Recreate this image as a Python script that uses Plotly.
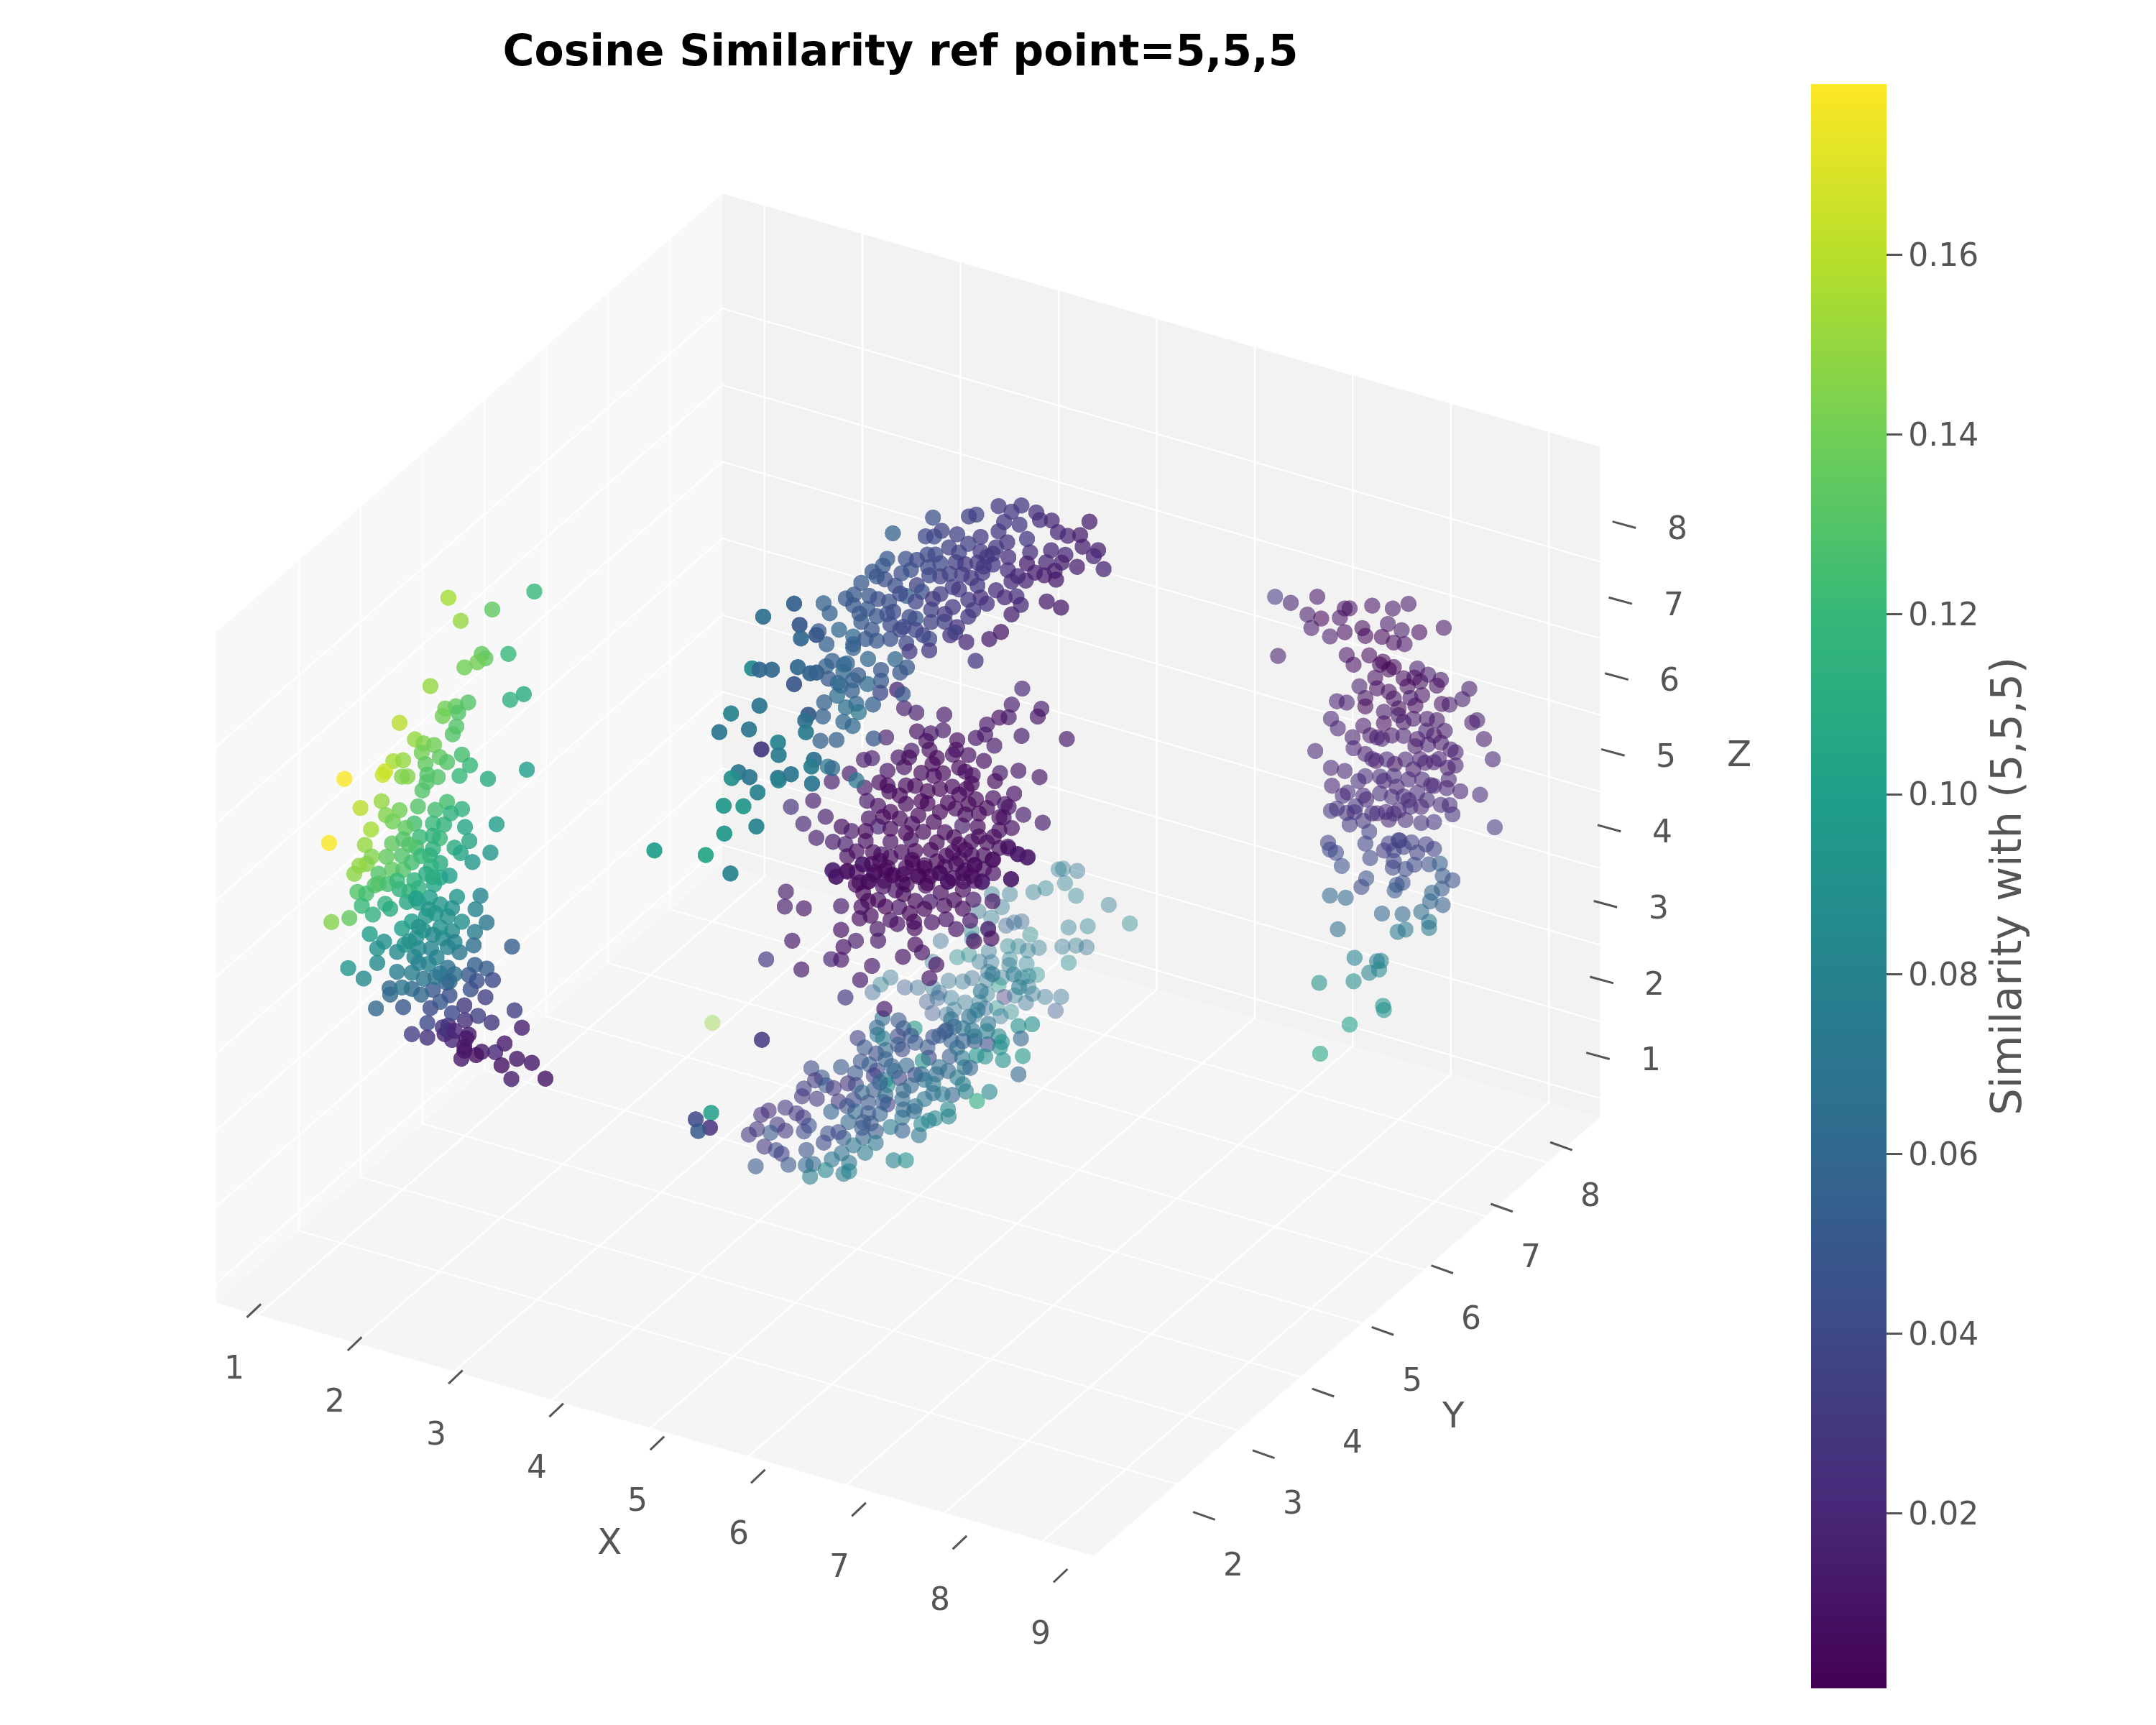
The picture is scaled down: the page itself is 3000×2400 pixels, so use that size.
import plotly.graph_objects as go

GREY = "#555555"
FONT = "DejaVu Sans"
x_ticks = [1, 2, 3, 4, 5, 6, 7, 8, 9]
y_ticks = [2, 3, 4, 5, 6, 7, 8]
z_ticks = [1, 2, 3, 4, 5, 6, 7, 8]
x_range = [0.57, 9.52]
y_range = [0.66, 8.85]
z_range = [0.75, 9.496]
sim_min = 0.0005
sim_max = 0.179
cbar_vals = [0.02, 0.04, 0.06, 0.08, 0.10, 0.12, 0.14, 0.16]
cbar_text = ["0.02", "0.04", "0.06", "0.08", "0.10", "0.12", "0.14", "0.16"]

left_x = 1.5
left_y = [2.94,3.14,3.65,4.33,3.48,3.54,3.41,3.20,3.91,2.65,3.94,4.16,2.15,2.89,3.06,3.26,3.10,2.85,3.07,3.01,2.40,2.54,2.71,2.51,2.80,3.16,2.92,2.05,2.21,2.57,3.29,1.92,1.88,2.19,2.28,2.60,2.77,3.12,3.58,4.21,1.26,2.59,2.52,1.86,2.45,2.92,2.73,3.16,1.52,2.15,1.93,2.04,2.98,2.69,2.39,1.69,2.25,3.21,3.72,2.87,1.59,2.03,2.48,2.80,2.69,3.28,1.01,3.04,2.42,2.21,3.62,3.14,1.70,1.94,2.64,3.33,1.62,1.50,2.03,1.42,1.81,2.21,2.81,2.39,1.75,2.96,2.15,1.47,2.71,3.46,3.08,1.61,1.92,2.64,1.54,3.38,2.27,1.72,1.34,1.05,3.00,2.58,3.56,3.16,2.19,1.67,3.37,2.85,2.42,1.90,3.35,3.97,1.79,2.11,3.12,2.66,1.79,2.39,3.37,3.56,2.62,1.32,2.11,2.93,1.57,3.27,3.66,2.54,2.91,3.40,1.99,3.30,2.35,2.69,2.96,3.54,2.00,2.21,1.77,2.65,4.01,3.20,3.42,3.64,2.60,2.94,3.21,4.13,2.35,2.60,2.88,3.27,3.00,3.85,3.20,3.48,3.70,3.15,3.39,4.05,4.29,3.80,3.96,4.51,
          2.31,2.46,2.73,2.93,2.00,2.35,2.54,3.00,2.75,2.23,2.46,2.81,3.04,2.35,2.69,2.50,2.69,2.81,2.66,2.19,2.31,1.81,1.96,2.46,3.04,2.81,
          2.42,2.62,2.81,2.46,2.69,2.93,2.31,2.46,2.73,2.96,2.19,2.50,2.81,3.00,2.93,2.85,3.04,3.23,3.20,2.58,2.35,2.11]
left_z = [8.70,8.26,8.05,7.81,7.59,7.49,7.53,7.61,7.29,7.75,6.67,6.59,7.62,7.29,7.20,7.11,7.09,7.22,6.93,6.87,7.23,7.08,6.94,6.98,6.72,6.50,6.57,7.19,7.09,6.79,6.27,7.15,7.13,6.89,6.83,6.63,6.48,6.25,5.89,5.57,7.51,6.54,6.48,6.80,6.32,6.05,6.08,5.79,6.95,6.48,6.57,6.41,5.86,5.93,6.14,6.55,6.18,5.52,5.20,5.79,6.42,6.13,5.90,5.66,5.77,5.29,6.85,5.37,5.81,6.06,4.90,5.23,6.19,6.02,5.55,4.98,6.15,6.21,5.79,6.16,5.89,5.66,5.14,5.40,5.78,5.06,5.45,5.89,5.12,4.45,4.70,5.77,5.42,5.00,5.66,4.33,5.20,5.42,5.64,5.79,4.61,4.80,4.03,4.32,4.91,5.20,4.04,4.32,4.63,4.94,3.88,3.43,4.93,4.66,3.95,4.32,4.74,4.40,3.61,3.43,4.15,5.00,4.40,3.88,4.69,3.55,3.21,4.01,3.70,3.38,4.27,3.34,4.01,3.76,3.50,3.07,4.18,3.87,4.16,3.55,2.57,3.20,2.91,2.67,3.39,3.12,3.00,2.26,3.42,3.20,3.05,2.77,2.89,2.25,2.66,2.40,2.24,2.54,2.42,1.91,1.69,2.00,1.71,1.33,
          5.31,5.06,4.73,4.55,5.30,4.89,4.64,4.31,4.14,4.67,4.46,3.89,3.72,4.22,5.23,5.64,5.60,5.33,5.39,5.86,5.92,5.76,5.65,5.25,4.14,4.49,
          5.14,4.86,4.79,4.74,4.48,4.15,4.66,4.27,3.90,3.68,4.14,3.83,3.52,3.24,3.06,3.16,2.98,2.75,2.61,5.35,5.66,5.59]
left_s = [.155,.15,.135,.12,.135,.135,.14,.14,.12,.15,.115,.11,.16,.14,.135,.13,.13,.14,.13,.13,.15,.145,.14,.14,.135,.125,.13,.155,.15,.135,.12,.165,.165,.145,.145,.13,.13,.12,.11,.1,.178,.13,.13,.15,.13,.125,.125,.115,.16,.14,.145,.14,.115,.12,.125,.155,.135,.105,.1,.115,.15,.135,.12,.12,.115,.105,.178,.11,.125,.13,.095,.105,.145,.135,.115,.095,.145,.15,.135,.148,.13,.13,.105,.115,.13,.1,.115,.13,.105,.08,.095,.125,.115,.1,.12,.08,.105,.115,.135,.145,.09,.095,.07,.09,.1,.1,.075,.085,.09,.09,.065,.055,.09,.085,.07,.08,.085,.08,.055,.055,.08,.095,.075,.065,.085,.05,.04,.07,.06,.045,.06,.045,.06,.05,.045,.035,.06,.05,.06,.04,.035,.03,.035,.03,.04,.02,.025,.015,.035,.025,.015,.012,.02,.012,.01,.012,.02,.012,.008,.012,.012,.008,.015,.01,
          .115,.105,.095,.09,.11,.1,.095,.085,.08,.09,.085,.07,.065,.075,.11,.12,.115,.11,.115,.13,.13,.13,.125,.115,.08,.09,
          .1,.095,.095,.09,.085,.08,.09,.08,.07,.06,.07,.06,.05,.04,.025,.028,.02,.012,.01,.11,.125,.12]

bottom_far_x = 5.0
bottom_far_y = [7.26,7.33,7.56,7.36,7.05,6.85,7.54,8.07,6.47,6.18,6.34,5.96,6.17,8.41,7.73,7.42,6.66,6.54,6.41,6.80,5.85,6.12,5.35,5.86,7.32,7.54,7.71,6.94,6.61,6.44,6.76,6.13,5.81,5.62,5.22,6.47,6.74,7.42,5.98,6.17,6.46,6.12,6.91,6.67,6.77,5.71,5.48,5.86,6.34,4.54,4.38,4.77,4.98,4.25,6.10,6.29,6.77,5.23,5.33,6.84,7.04,7.30,6.10,6.38,6.55,5.13,5.30,5.52,6.73,5.75,5.98,7.21,6.49,6.26,6.07,5.22,5.57,5.45,5.90,6.32,1.66]
bottom_far_z = [3.43,3.39,3.20,3.18,3.33,3.42,2.89,2.40,3.66,3.86,3.58,3.79,3.56,1.92,2.36,2.56,3.17,3.24,3.29,2.90,3.61,3.44,3.83,3.50,2.38,2.24,2.10,2.63,2.88,3.00,2.72,3.15,3.33,3.43,3.65,2.81,2.56,2.10,3.12,2.98,2.74,2.89,2.30,2.43,2.38,3.05,3.22,2.99,2.66,3.92,3.94,3.63,3.48,3.93,2.80,2.60,2.24,3.30,3.17,2.10,1.92,1.74,2.61,2.38,2.28,3.19,3.12,2.97,2.06,2.75,2.59,1.62,2.11,2.32,2.45,2.98,2.78,2.80,2.48,2.17,5.34]
bottom_far_s = [.075,.075,.065,.075,.08,.075,.08,.07,.07,.07,.07,.065,.07,.085,.08,.075,.06,.06,.055,.085,.08,.05,.06,.07,.065,.07,.065,.07,.08,.08,.075,.07,.085,.085,.07,.08,.08,.085,.07,.07,.07,.065,.09,.08,.08,.07,.065,.06,.075,.065,.075,.05,.06,.055,.07,.095,.075,.07,.06,.07,.07,.065,.075,.03,.07,.05,.055,.07,.065,.065,.07,.05,.085,.09,.06,.05,.07,.065,.07,.07,.15]

bottom_near_x = 5.0
bottom_near_y = [4.41,6.61,6.83,4.67,6.12,4.93,4.32,4.75,5.52,5.71,5.45,6.65,6.29,5.86,4.01,4.66,4.87,5.23,6.34,6.11,6.31,4.33,4.12,4.42,5.52,5.90,4.31,4.73,4.46,6.68,6.07,5.70,5.16,5.93,6.36,5.50,4.06,4.20,5.06,5.74,5.83,4.56,4.80,3.26,3.74,5.47,6.61,3.97,4.32,4.94,4.27,4.68,5.28,5.62,3.43,4.46,3.32,5.09,3.85,3.98,3.50,4.87,3.14,4.49,3.62,4.27,4.08,5.23,5.76,6.14,5.54,5.38,3.11,3.35,4.46,5.09,5.94,4.73,3.94,3.70,4.18,4.49,2.84,4.94,3.02,5.47,2.57,3.58,3.97,4.37,4.92,3.13,5.26,5.48,2.45,5.16,4.73,4.10,5.04,2.71,4.54,3.22,3.86,4.22,4.73,2.60,2.84,3.14,2.38,2.25,4.30,5.00,3.53,4.10,3.78,4.30,3.46,3.94,2.50,2.69,3.18,3.75,4.13,2.78,4.59,4.79,3.59,2.36,2.89,3.17,3.29,3.87,3.49,3.78,3.87,3.24,
                 4.46,4.66,4.94,5.14,5.33,5.57,5.81,5.95,6.00,6.19,6.53,5.90,5.62,5.33,5.04,4.75,4.61,4.37,4.18,4.42,4.08,3.70,3.84,5.23,5.71,4.75,5.71,5.42,6.10,6.62]
bottom_near_z = [3.48,1.84,1.71,3.27,2.21,2.98,3.42,3.11,2.69,2.44,2.60,1.65,1.93,2.31,3.50,3.07,2.93,2.66,1.82,1.95,1.77,3.32,3.30,3.21,2.41,2.14,3.09,2.85,3.03,1.40,1.82,2.06,2.44,1.93,1.57,2.22,3.16,3.02,2.47,1.91,1.84,2.75,2.59,3.63,3.31,2.05,1.21,3.07,2.86,2.37,2.83,2.51,2.14,1.86,3.39,2.64,3.43,2.20,3.02,2.91,3.24,2.28,3.45,2.55,3.12,2.64,2.74,1.93,1.58,1.31,1.69,1.81,3.37,3.17,2.44,1.95,1.33,2.20,2.74,2.89,2.54,2.30,3.41,1.96,3.21,1.55,3.56,2.84,2.57,2.26,1.91,3.08,1.58,1.45,3.59,1.62,1.96,2.34,1.66,3.28,1.97,2.91,2.51,2.24,1.79,3.25,3.11,2.89,3.45,3.47,2.08,1.54,2.59,2.14,2.36,1.93,2.52,2.15,3.14,2.96,2.62,2.18,1.92,2.85,1.50,1.36,2.21,2.98,2.63,2.43,2.36,1.97,2.14,1.89,1.86,2.23,
                 2.91,2.96,2.79,2.59,2.61,2.56,2.52,2.51,2.72,2.81,2.57,2.20,2.25,2.20,2.31,2.30,2.65,2.67,2.40,2.38,2.28,2.49,2.73,2.05,1.71,2.05,2.27,2.60,2.13,2.34]
bottom_near_s = [.065,.09,.09,.05,.07,.095,.06,.05,.065,.07,.05,.06,.085,.07,.035,.04,.045,.045,.09,.045,.09,.07,.05,.075,.055,.05,.04,.04,.06,.095,.09,.075,.035,.09,.09,.05,.045,.055,.09,.07,.06,.055,.06,.04,.05,.06,.06,.05,.04,.04,.035,.035,.06,.075,.045,.07,.03,.07,.025,.04,.05,.06,.035,.09,.03,.05,.06,.06,.08,.085,.06,.075,.03,.03,.06,.07,.11,.06,.04,.03,.05,.035,.03,.07,.03,.085,.025,.055,.06,.055,.06,.03,.085,.08,.025,.08,.07,.05,.085,.03,.075,.045,.06,.05,.055,.05,.03,.04,.03,.03,.05,.07,.045,.055,.055,.07,.04,.07,.03,.04,.045,.065,.075,.035,.08,.09,.07,.05,.05,.06,.06,.07,.085,.075,.08,.075,
                 .055,.05,.05,.05,.05,.06,.065,.07,.07,.07,.075,.07,.065,.065,.06,.06,.06,.055,.05,.055,.05,.04,.045,.07,.075,.06,.055,.05,.075,.075]

top_x = 4.5
top_y = [7.08,7.45,7.29,7.69,6.60,6.72,6.02,7.75,7.94,8.55,7.17,7.42,5.37,6.16,8.04,8.20,8.40,7.08,6.41,5.90,6.04,6.79,7.54,8.44,8.69,8.62,7.22,6.59,6.28,7.04,7.93,8.16,8.78,8.35,6.44,6.06,5.93,5.28,5.58,5.76,7.59,6.89,8.10,7.85,7.54,6.39,6.14,6.74,5.94,6.99,5.21,5.66,5.51,5.04,5.11,5.24,7.99,7.67,7.23,6.82,6.29,7.82,8.01,7.52,7.39,6.64,5.96,4.86,5.41,5.76,7.04,6.34,6.74,7.29,5.84,7.86,8.09,7.18,7.37,4.61,4.74,4.99,5.59,6.02,6.59,6.89,7.29,7.44,4.25,4.35,4.73,5.31,6.34,6.67,
         4.96,5.11,5.74,6.21,6.59,4.86,5.54,5.99,6.21,6.41,4.17,4.50,5.33,6.30,7.12,6.38,5.86,4.73,4.93,5.11,5.33,6.93,5.96,4.30,6.56,5.59,4.73,5.96,5.64,6.71,4.97,4.39,5.41,4.63,5.60,4.29,4.57,5.18,5.49,4.81,4.33,5.18,4.96,4.48,5.44,5.53,5.17,4.71,4.47,4.26,5.05,4.78,4.61,4.82,4.24,4.57,4.72,5.06,4.20,4.46,4.32,4.39,4.78,
         6.54,6.79,6.99,7.24,6.14,6.49,6.84,6.14,6.44,6.79,5.49,5.74,5.99,5.13,5.38,5.64,5.03,5.28,4.83,4.73,5.49,5.74,4.53,4.73,4.58]
top_z = [8.11,7.86,7.89,7.60,8.31,8.25,8.70,7.46,7.32,6.88,7.84,7.63,8.95,8.43,7.10,6.94,6.81,7.78,8.21,8.54,8.44,7.91,7.36,6.63,6.41,6.38,7.54,7.96,8.13,7.60,6.94,6.72,6.10,6.43,7.95,8.19,8.28,8.68,8.47,8.33,7.15,7.58,6.66,6.84,7.04,7.86,8.02,7.61,8.11,7.41,8.64,8.27,8.33,8.68,8.57,8.44,6.63,6.83,7.17,7.42,7.78,6.69,6.50,6.83,6.98,7.48,7.99,8.66,8.24,8.00,7.04,7.57,7.31,6.98,7.86,6.32,6.08,6.85,6.73,8.63,8.59,8.40,7.98,7.64,7.23,6.97,6.55,6.57,8.82,8.62,8.46,8.10,7.31,7.04,
         8.25,8.05,7.58,7.31,7.01,8.15,7.61,7.36,7.21,7.00,8.51,8.30,7.79,6.97,6.44,6.95,7.28,8.05,7.88,7.73,7.60,6.48,7.16,8.25,6.70,7.36,7.90,7.01,7.22,6.35,7.59,7.97,7.28,7.77,7.04,7.97,7.70,7.30,7.05,7.49,7.78,7.16,7.27,7.62,6.86,6.74,7.01,7.36,7.46,7.52,6.94,7.14,7.21,7.00,7.35,7.05,6.89,6.49,7.06,6.89,6.64,6.57,6.14,
         7.73,7.72,7.55,7.33,7.85,7.63,7.49,7.62,7.47,7.12,8.08,7.80,7.52,8.26,7.92,7.67,7.93,7.96,8.28,7.95,7.61,7.43,7.55,7.48,7.79]
top_s = [.03,.03,.03,.025,.035,.035,.045,.025,.02,.015,.03,.03,.055,.035,.02,.02,.015,.03,.035,.04,.04,.03,.03,.015,.015,.02,.025,.035,.035,.03,.02,.02,.018,.015,.035,.04,.04,.05,.045,.04,.025,.03,.015,.02,.015,.035,.04,.03,.04,.03,.05,.045,.045,.05,.05,.045,.015,.015,.025,.03,.035,.015,.012,.02,.02,.03,.04,.05,.045,.035,.025,.035,.03,.022,.045,.015,.012,.02,.025,.05,.05,.05,.055,.03,.03,.025,.015,.02,.055,.055,.05,.045,.03,.03,
         .05,.05,.05,.03,.03,.05,.04,.035,.035,.025,.05,.06,.04,.025,.012,.035,.035,.06,.05,.05,.045,.015,.04,.055,.02,.04,.055,.03,.03,.03,.06,.055,.06,.055,.05,.055,.06,.05,.05,.05,.05,.05,.06,.06,.018,.05,.04,.055,.065,.055,.055,.06,.065,.07,.055,.06,.06,.05,.055,.055,.07,.06,.07,
         .03,.03,.028,.025,.035,.032,.03,.033,.03,.025,.04,.038,.035,.045,.04,.04,.05,.045,.05,.055,.04,.038,.06,.055,.06]

top_left_x = 3.5
top_left_y = [5.36,4.86,5.45,5.47,5.42,4.68,4.80,5.00,5.62,5.72,5.72,5.36,5.59,4.80,4.34,5.54,4.63,4.15,5.55,5.10,4.83,5.11,5.68,5.64,4.46,4.64,4.35,5.10,5.11,5.31,5.65,4.77,4.22,4.54,4.75,4.23,3.93,3.10,4.33]
top_left_z = [7.67,7.85,7.33,7.14,6.80,7.30,7.20,7.06,6.58,6.52,7.01,6.62,6.06,6.73,6.95,6.02,6.54,6.84,5.86,6.04,6.14,5.87,5.41,5.35,6.10,5.91,6.10,5.58,5.54,5.48,5.12,5.62,5.83,5.60,5.19,5.46,5.39,6.03,4.87]
top_left_s = [.055,.065,.05,.06,.06,.085,.06,.06,.055,.055,.05,.05,.05,.07,.08,.065,.07,.07,.075,.08,.03,.075,.065,.075,.07,.07,.09,.07,.08,.07,.07,.08,.095,.095,.08,.095,.105,.1,.08]

center_x = 5.0
center_y = [6.67,6.50,6.98,4.76,4.96,5.41,6.30,6.45,6.92,6.10,4.97,5.19,5.39,6.66,7.39,4.47,5.92,5.62,5.12,6.07,6.22,5.60,4.88,5.17,5.80,6.05,4.11,4.24,4.67,5.55,6.31,6.61,6.95,4.76,5.22,5.87,3.88,3.59,4.49,5.75,6.23,4.36,4.79,5.24,5.54,4.12,6.54,4.52,5.14,5.65,6.20,4.16,3.29,2.93,6.39,6.10,4.79,5.14,5.80,4.34,4.54,6.69,7.00,3.49,4.19,6.37,5.59,3.13,3.75,4.34,4.89,5.24,5.70,6.30,5.95,3.91,3.34,3.61,3.81,4.14,4.54,4.87,5.29,5.65,6.21,6.10,6.44,6.60,6.75,6.20,4.39,4.89,5.44,5.85,4.09,3.61,3.84,4.29,4.59,4.99,5.75,6.02,6.49,5.47,5.33,3.66,4.04,5.72,
            6.76,6.60,6.19,6.45,4.09,4.37,4.90,3.60,3.84,3.66,6.49,6.02,5.34,4.27,4.56,4.99,5.71,3.98,5.47,4.42,4.80,5.11,4.10,4.62,5.35,5.71,2.85,2.83,3.14,3.74,4.07,4.34,4.68,4.94,5.18,5.41,5.88,5.71,4.22,4.04,4.54,4.92,5.21,5.44,5.83,6.19,4.65,4.33,4.93,3.74,5.60,6.12,2.95,3.98,4.34,5.89,6.17,4.94,3.78,5.05,2.53,3.58,3.74,4.74,3.10,4.24,5.28,4.05,5.17,3.81,4.44,
            4.49,4.69,4.94,5.04,5.34,5.47,5.77,5.92,5.97,5.75,5.34,4.99,4.69,4.42,4.54,4.79,5.07,5.42,5.57,5.85,5.97,5.75,5.55,5.19,4.94,4.72,4.54,4.26,3.99,4.14,3.84,4.24,4.49,4.79,5.09,5.29,5.60,5.90,6.05,6.30,6.30,6.50,6.45,5.85,5.65,5.04,4.84,5.29,5.39,3.99,4.19,4.44,4.74,5.14,5.55,5.85,5.19,6.20,
            4.18,4.46,4.75,5.09,5.42,5.66,5.90,4.75,4.18,4.46,4.85,5.09,5.57,5.90,6.05]
center_z = [6.20,6.11,5.72,7.28,7.08,6.74,6.08,5.98,5.66,6.13,6.83,6.65,6.55,5.59,5.04,7.10,6.08,6.26,6.60,6.02,5.77,6.15,6.64,6.45,5.94,5.69,7.06,6.99,6.70,6.12,5.35,5.17,4.85,6.51,6.23,5.63,7.04,7.14,6.65,5.76,5.30,6.59,6.25,6.06,5.71,6.69,4.92,6.36,5.93,5.53,5.10,6.49,7.10,7.27,4.89,5.04,6.01,5.77,5.30,6.30,6.08,4.54,4.22,6.75,6.24,4.73,5.39,6.91,6.44,6.03,5.68,5.46,5.09,4.61,4.90,6.27,6.58,6.34,6.17,5.98,5.69,5.49,5.16,4.88,4.59,4.59,4.30,4.09,3.94,4.30,5.63,5.21,4.88,4.60,5.71,5.97,5.79,5.47,5.22,4.94,4.47,4.14,3.84,4.52,4.73,5.85,5.51,4.35,
            3.94,4.09,4.30,4.27,5.71,5.56,5.16,5.97,5.80,5.85,3.84,4.13,4.72,5.45,5.24,4.92,4.46,5.52,4.52,5.19,4.95,4.72,5.33,5.00,4.46,4.25,6.22,6.04,5.80,5.41,5.17,5.07,4.74,4.64,4.46,4.25,4.00,4.00,4.95,5.04,4.67,4.38,4.17,4.05,3.76,3.76,4.54,4.70,4.29,5.10,3.81,3.45,5.51,4.79,4.54,3.45,3.29,4.07,4.85,3.89,5.56,4.83,4.71,4.05,5.03,4.28,3.57,4.23,3.47,4.17,3.58,
            6.46,6.19,6.14,5.87,5.82,5.55,5.52,5.28,5.06,5.20,5.52,5.72,5.89,6.10,5.86,5.63,5.45,5.20,5.03,4.78,4.76,4.74,4.85,5.13,5.29,5.43,5.49,5.75,5.95,6.11,5.99,5.61,5.39,5.18,5.00,4.91,4.66,4.43,4.46,4.38,4.78,4.50,4.81,5.53,5.88,6.24,6.58,6.26,5.99,5.68,5.42,5.25,5.02,4.73,4.51,4.33,4.79,4.12,
            5.42,5.37,5.12,4.96,4.75,4.68,4.44,4.86,5.17,4.90,4.54,4.43,4.21,4.23,4.28]
center_s = [.02,.015,.015,.015,.015,.012,.008,.012,.01,.012,.008,.01,.012,.012,.012,.015,.01,.006,.006,.012,.012,.006,.012,.006,.008,.008,.015,.015,.01,.008,.012,.012,.012,.01,.003,.004,.012,.015,.01,.005,.006,.006,.004,.003,.004,.012,.008,.004,.003,.002,.008,.012,.015,.025,.01,.005,.003,.002,.003,.008,.002,.015,.015,.015,.008,.008,.006,.02,.005,.018,.004,.003,.015,.005,.004,.012,.015,.012,.015,.006,.008,.01,.003,.002,.006,.006,.008,.01,.01,.005,.006,.004,.002,.003,.012,.01,.005,.005,.004,.004,.005,.012,.012,.008,.01,.008,.005,.006,
            .012,.012,.004,.008,.012,.004,.003,.015,.006,.01,.012,.012,.01,.004,.002,.003,.004,.004,.008,.005,.006,.005,.002,.008,.005,.006,.015,.015,.012,.012,.005,.006,.01,.003,.01,.006,.012,.004,.004,.006,.008,.003,.008,.01,.01,.01,.008,.01,.004,.008,.01,.012,.012,.015,.012,.005,.006,.005,.008,.01,.03,.018,.012,.01,.012,.012,.008,.012,.01,.03,.012,
            .004,.003,.003,.002,.002,.002,.003,.004,.004,.003,.002,.002,.003,.004,.003,.002,.002,.002,.003,.004,.004,.003,.002,.002,.002,.003,.003,.005,.006,.005,.006,.004,.003,.003,.002,.002,.003,.004,.005,.006,.006,.008,.007,.004,.004,.003,.005,.003,.003,.006,.005,.004,.004,.003,.003,.004,.003,.006,
            .004,.003,.002,.002,.003,.004,.005,.002,.003,.002,.002,.003,.004,.006,.006]

right_y = 8.0
right_x = [6.74,6.90,7.17,7.07,7.21,7.45,7.50,7.73,7.94,8.10,7.40,7.11,7.30,7.45,7.63,7.89,8.03,8.46,8.21,7.66,7.83,7.95,8.06,6.77,7.47,7.70,7.54,7.84,7.95,8.19,7.76,8.16,8.30,8.43,7.60,7.90,8.09,8.39,8.72,7.66,7.37,7.47,8.65,7.66,8.00,8.17,8.44,8.52,7.31,7.38,7.85,8.05,8.39,8.75,8.80,7.64,8.47,8.28,7.53,7.78,7.93,8.87,8.43,7.54,8.17,8.30,8.53,7.15,8.58,8.96,7.77,7.96,8.27,8.36,7.66,7.31,7.45,8.50,8.58,8.15,7.59,7.85,8.33,8.51,7.32,7.43,7.48,8.83,8.63,8.49,7.64,7.81,7.98,8.10,7.67,8.23,7.31,7.47,7.55,7.37,7.87,8.00,8.43,8.52,8.55,7.64,7.50,7.73,8.23,8.36,7.90,8.07,8.98,7.70,7.28,8.01,8.13,8.28,7.30,7.36,7.66,7.85,7.95,8.36,8.19,7.71,7.42,7.94,8.16,8.31,8.42,8.07,8.45,8.55,7.67,8.04,7.62,7.98,8.44,7.96,8.34,7.30,7.46,8.32,8.45,7.83,8.04,8.23,8.31,8.31,8.07,7.99,7.38,7.55,7.82,7.78,7.80,7.70,7.19,7.54,7.84,7.85,7.50,7.20,
           7.81,7.90,8.05,8.22,7.78,7.95,8.12,8.24,7.85,8.00,8.15,8.29,7.71,7.83,8.05,8.19,8.36,7.73,7.88,8.07,8.22,8.41,7.81,7.95,8.10,8.24,8.36,7.93,8.05,8.19,7.78,7.95,8.12,8.29,7.66,7.56,7.90,8.05,7.95,8.00]
right_z = [7.11,7.09,7.27,7.00,7.00,7.22,7.24,7.36,7.40,7.52,7.08,6.84,6.80,6.91,7.03,7.18,7.15,7.34,7.19,6.94,6.99,6.96,6.98,6.35,6.62,6.70,6.52,6.67,6.64,6.71,6.43,6.58,6.67,6.65,6.26,6.30,6.44,6.56,6.64,6.13,5.98,6.00,6.48,6.02,6.12,6.22,6.34,6.36,5.73,5.63,5.87,5.96,6.11,6.21,6.26,5.76,6.00,5.93,5.57,5.66,5.74,6.04,5.83,5.43,5.69,5.76,5.78,5.25,5.76,5.81,5.35,5.38,5.51,5.55,5.40,5.09,5.10,5.53,5.59,5.38,5.02,5.12,5.24,5.38,4.86,4.77,4.83,5.30,5.27,5.26,4.85,4.94,5.09,4.96,4.81,4.92,4.53,4.56,4.60,4.58,4.72,4.79,5.02,5.05,4.94,4.52,4.42,4.65,4.71,4.77,4.63,4.69,4.93,4.40,4.10,4.40,4.42,4.45,4.02,4.00,4.23,4.21,4.25,4.42,4.31,4.06,3.85,4.02,4.14,4.20,4.25,4.05,4.10,4.08,3.78,3.86,3.65,3.81,3.93,3.73,3.84,3.42,3.45,3.72,3.72,3.38,3.45,3.55,3.45,3.37,3.26,3.20,3.01,2.70,2.76,2.74,2.64,2.56,2.24,2.39,2.18,2.13,1.81,1.32,
           6.62,6.59,6.53,6.55,6.30,6.23,6.30,6.38,6.02,6.03,6.04,6.09,5.66,5.66,5.78,5.79,5.90,5.36,5.41,5.48,5.54,5.61,5.16,5.22,5.23,5.28,5.24,4.94,4.99,5.09,4.67,4.73,4.88,5.03,5.11,4.68,4.32,4.33,4.11,4.40]
right_s = [.03,.015,.01,.012,.003,.005,.008,.01,.012,.012,.01,.012,.012,.005,.006,.012,.012,.01,.005,.004,.004,.006,.01,.015,.01,.005,.006,.004,.002,.012,.006,.008,.012,.01,.015,.006,.008,.006,.012,.01,.016,.015,.015,.004,.006,.006,.008,.012,.018,.018,.006,.008,.012,.014,.015,.014,.012,.015,.015,.008,.01,.015,.012,.018,.012,.018,.014,.02,.016,.018,.01,.009,.014,.016,.016,.02,.02,.014,.016,.012,.022,.018,.016,.018,.018,.022,.022,.022,.018,.018,.022,.022,.02,.018,.02,.02,.028,.025,.025,.028,.018,.02,.022,.022,.025,.028,.03,.02,.024,.028,.02,.022,.032,.035,.035,.032,.035,.035,.04,.04,.036,.032,.035,.035,.035,.04,.045,.04,.042,.045,.055,.042,.05,.045,.045,.045,.042,.045,.05,.05,.058,.06,.06,.058,.055,.06,.06,.065,.07,.07,.07,.072,.065,.078,.08,.075,.085,.08,.09,.088,.09,.09,.1,.105,
           .004,.004,.006,.008,.006,.008,.01,.008,.012,.012,.012,.012,.016,.016,.016,.014,.012,.02,.02,.018,.018,.016,.022,.022,.02,.02,.02,.024,.024,.022,.026,.024,.024,.022,.022,.026,.034,.034,.038,.034]

stray_x = 5.0
stray_y = [2.46,1.64,1.39,1.62,1.43]
stray_z = [4.56,4.18,4.27,4.00,4.09]
stray_s = [.03,.1,.04,.025,.05]

groups = [
    (right_x, [right_y] * len(right_x), right_z, right_s, 0.58),
    ([bottom_far_x] * len(bottom_far_y), bottom_far_y, bottom_far_z, bottom_far_s, 0.42),
    ([bottom_near_x] * len(bottom_near_y), bottom_near_y, bottom_near_z, bottom_near_s, 0.6),
    ([center_x] * len(center_y), center_y, center_z, center_s, 0.68),
    ([top_x] * len(top_y), top_y, top_z, top_s, 0.74),
    ([top_left_x] * len(top_left_y), top_left_y, top_left_z, top_left_s, 0.92),
    ([left_x] * len(left_y), left_y, left_z, left_s, 0.8),
    ([stray_x] * len(stray_y), stray_y, stray_z, stray_s, 0.85),
]

fig = go.Figure()
for xs, ys, zs, ss, op in groups:
    assert len(xs) == len(ys) == len(zs) == len(ss), (len(xs), len(ys), len(zs), len(ss))
    fig.add_trace(go.Scatter3d(x=xs, y=ys, z=zs, mode="markers", hoverinfo="skip",
                               marker=dict(size=13, color=ss, coloraxis="coloraxis", opacity=op, line=dict(width=0))))


def ax(ticks, rng, bg):
    return dict(title=dict(text=""), tickvals=ticks, range=rng, autorange=False, showticklabels=False, ticks="",
                backgroundcolor=bg, showbackground=True, gridcolor="white", gridwidth=6,
                showline=False, zeroline=False, showspikes=False)


def label(x, y, z, text, dx, dy, size):
    return dict(x=x, y=y, z=z, text=text, showarrow=False, xshift=dx, yshift=-dy,
                font=dict(size=size, color=GREY, family=FONT))


def tick(x, y, z, tx, ty, dx, dy):
    return dict(x=x, y=y, z=z, text=" ", showarrow=True, arrowhead=0, arrowwidth=3, arrowcolor=GREY,
                ax=tx, ay=ty, xshift=dx, yshift=-dy, font=dict(size=1), standoff=0, startstandoff=0, borderpad=0)


S = 1.923
annos = []
for k in x_ticks:
    cx = (2 + (k - 1) * 2) * S
    cy = (-8 + (k - 1) * 3.5) * S
    annos.append(tick(k, y_range[0], z_range[0], -20, 19, cx, cy))
    annos.append(label(k, y_range[0], z_range[0], str(k), -37 + cx, 88 + cy, 44))
for k in y_ticks:
    cx = (12 - (k - 2) * 1.67) * S
    cy = (20 - (k - 2) * 5.83) * S
    annos.append(tick(x_range[1], k, z_range[0], 31, 11, cx, cy))
    annos.append(label(x_range[1], k, z_range[0], str(k), 56 + cx, 73 + cy, 44))
for k in z_ticks:
    cx = (-10 + (k - 1) * 2.71) * S
    cy = (-33 + (k - 1) * 0.57) * S
    annos.append(tick(x_range[1], y_range[1], k, 33, 9, cx, cy))
    annos.append(label(x_range[1], y_range[1], k, str(k), 90 + cx, 9 + cy, 44))
annos.append(label(5, y_range[0], z_range[0], "X", -72 + 8 * S, 160 - 1 * S, 50))
annos.append(label(x_range[1], 5, z_range[0], "Y", 104 + 12 * S, 127, 50))
annos.append(label(x_range[1], y_range[1], 5, "Z", 180 + 7 * S, -27 * S, 50))

fig.update_layout(
    width=3000, height=2400, paper_bgcolor="white", margin=dict(l=0, r=0, t=0, b=0), showlegend=False,
    title=dict(text="<b>Cosine Similarity ref point=5,5,5</b>", x=0.415, xanchor="center", y=0.974, yanchor="middle",
               font=dict(size=60, color="black", family=FONT)),
    coloraxis=dict(colorscale="Viridis", cmin=sim_min, cmax=sim_max,
                   colorbar=dict(tickvals=cbar_vals, ticktext=cbar_text,
                                 tickfont=dict(size=44, color=GREY, family=FONT),
                                 thickness=105, len=2252, lenmode="pixels", x=0.834, xanchor="left", y=0.4895, yanchor="middle",
                                 ticks="outside", ticklen=22, tickcolor=GREY, tickwidth=3, outlinewidth=0)),
    annotations=[dict(text="Similarity with (5,5,5)", x=1466 / 1560, y=1 - 637 / 1248, xref="paper", yref="paper",
                      showarrow=False, textangle=-90, font=dict(size=59, color=GREY, family=FONT))],
    scene=dict(domain=dict(x=[0, 0.837], y=[0.0136, 0.9786]),
               xaxis=ax(x_ticks, x_range, "#f8f8f8"),
               yaxis=ax(y_ticks, y_range, "#f2f2f2"),
               zaxis=ax(z_ticks, z_range, "#f5f5f5"),
               aspectmode="manual", aspectratio=dict(x=1.2176, y=1.2176, z=0.93),
               annotations=annos,
               camera=dict(projection=dict(type="orthographic"), eye=dict(x=0.719, y=-1.246, z=0.83),
                           up=dict(x=0, y=0, z=1), center=dict(x=0, y=0, z=0))),
)
fig.write_html("out.html")
